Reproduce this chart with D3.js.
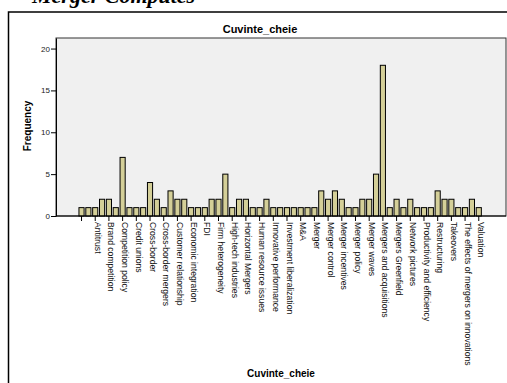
<!DOCTYPE html>
<html>
<head>
<meta charset="utf-8">
<script src="https://cdn.jsdelivr.net/npm/d3@7"></script>
<style>
  body { margin: 0; background: #fff; }
  svg { display: block; }
</style>
</head>
<body>
<svg id="drawing_region"></svg>
<script>
// categories (alphabetical, SPSS only labels every other one)
const categories = [
  "", "Acquisitions", "Antitrust", "Banking", "Brand competition", "Competition",
  "Competition policy", "Corporate governance", "Credit unions", "Cross border acquisitions",
  "Cross-border", "Cross-border acquisitions", "Cross-border mergers", "Culture",
  "Customer relationship", "Diversification", "Economic integration", "Efficiency",
  "FDI", "Financial performance", "Firm heterogeneity", "Globalization",
  "High-tech industries", "Hospital mergers", "Horizontal Mergers", "Human capital",
  "Human resource issues", "Innovation", "Innovative performance", "Integration",
  "Investment liberalization", "Joint ventures", "M&A", "Market power", "Merger",
  "Merger activity", "Merger control", "Merger guidelines", "Merger incentives",
  "Merger performance", "Merger policy", "Merger simulation", "Merger waves", "Mergers",
  "Mergers and acquisitions", "Mergers and alliances", "Mergers Greenfield", "Motives",
  "Network pictures", "Post-merger integration", "Productivity and efficiency",
  "Regulation", "Restructuring", "Synergies", "Takeovers", "Technology",
  "The effects of mergers on innovations", "Trade", "Valuation"
]
const frequencies = [
  1, 1, 1, 2, 2, 1, 7, 1, 1, 1,
  4, 2, 1, 3, 2, 2, 1, 1, 1, 2,
  2, 5, 1, 2, 2, 1, 1, 2, 1, 1,
  1, 1, 1, 1, 1, 3, 2, 3, 2, 1,
  1, 2, 2, 5, 18, 1, 2, 1, 2, 1,
  1, 1, 3, 2, 2, 1, 1, 2, 1
]
const yTicks = [0, 5, 10, 15, 20]
const yMax = 21.26

class BarChart {
  constructor(config) {
    this.config = config
    this.init()
  }

  init() {
    let self = this
    const c = self.config

    self.svg = d3.select(c.parent)
      .attr('width', c.width)
      .attr('height', c.height)

    // cropped heading from the page above the chart
    self.svg.append('text')
      .attr('x', 32)
      .attr('y', 3)
      .attr('font-family', '"Liberation Serif", serif')
      .attr('font-style', 'italic')
      .attr('font-weight', 'bold')
      .attr('font-size', 22)
      .text('Merger Computes')

    // outer frame
    self.svg.append('rect')
      .attr('x', 8.5).attr('y', 12)
      .attr('width', 520).attr('height', 400)
      .attr('fill', 'none')
      .attr('stroke', '#000')
      .attr('stroke-width', 1.5)

    self.xscale = d3.scaleBand()
      .domain(categories)
      .range([78.1, 482.2])
      .paddingInner(0.25)
      .paddingOuter(0.125)

    self.yscale = d3.scaleLinear()
      .domain([0, yMax])
      .range([c.plot.bottom, c.plot.top])
  }

  render() {
    let self = this
    const c = self.config

    // title
    self.svg.append('text')
      .attr('x', 260).attr('y', 33)
      .attr('text-anchor', 'middle')
      .attr('font-family', '"Liberation Sans", Arial, sans-serif')
      .attr('font-weight', 'bold')
      .attr('font-size', 11)
      .text('Cuvinte_cheie')

    // plot background
    self.svg.append('rect')
      .attr('x', c.plot.left).attr('y', c.plot.top)
      .attr('width', c.plot.right - c.plot.left)
      .attr('height', c.plot.bottom - c.plot.top)
      .attr('fill', '#f0f0f0')
      .attr('stroke', '#333')
      .attr('stroke-width', 1)

    // bars
    self.svg.append('g').selectAll('rect')
      .data(frequencies).enter()
      .append('rect')
      .attr('x', (d, i) => self.xscale(categories[i]))
      .attr('y', d => self.yscale(d))
      .attr('width', self.xscale.bandwidth())
      .attr('height', d => self.yscale(0) - self.yscale(d))
      .attr('fill', '#d4cf98')
      .attr('stroke', '#000')
      .attr('stroke-width', 1)

    // y axis
    const yaxis = d3.axisLeft(self.yscale).tickValues(yTicks).tickSize(5).tickSizeOuter(0)
    const yg = self.svg.append('g')
      .attr('transform', `translate(${c.plot.left},0)`)
      .call(yaxis)
    yg.select('.domain').attr('stroke', '#000')
    yg.selectAll('text')
      .attr('font-family', '"Liberation Sans", Arial, sans-serif')
      .attr('font-size', 8)
      .attr('fill', '#222')
      .attr('x', -6)

    // x axis, only every other category labelled
    const labelled = categories.filter((d, i) => i % 2 === 0)
    const xaxis = d3.axisBottom(self.xscale).tickValues(labelled).tickSize(5).tickSizeOuter(0)
    const xg = self.svg.append('g')
      .attr('transform', `translate(0,${c.plot.bottom})`)
      .call(xaxis)
    xg.select('.domain').remove()
    xg.selectAll('text')
      .attr('font-family', '"Liberation Sans", Arial, sans-serif')
      .attr('font-size', 8.6)
      .attr('fill', '#111')
      .attr('text-anchor', 'start')
      .attr('transform', 'rotate(90)')
      .attr('x', 6)
      .attr('y', 0)
      .attr('dy', '0.05em')

    self.svg.append('line')
      .attr('x1', c.plot.left).attr('x2', c.plot.right)
      .attr('y1', c.plot.bottom).attr('y2', c.plot.bottom)
      .attr('stroke', '#000')

    // axis titles
    self.svg.append('text')
      .attr('transform', 'translate(31,126) rotate(-90)')
      .attr('text-anchor', 'middle')
      .attr('font-family', '"Liberation Sans", Arial, sans-serif')
      .attr('font-weight', 'bold')
      .attr('font-size', 10)
      .text('Frequency')

    self.svg.append('text')
      .attr('x', 281).attr('y', 377)
      .attr('text-anchor', 'middle')
      .attr('font-family', '"Liberation Sans", Arial, sans-serif')
      .attr('font-weight', 'bold')
      .attr('font-size', 10)
      .text('Cuvinte_cheie')
  }
}

const config = {
  parent: '#drawing_region',
  width: 507,
  height: 383,
  plot: {left: 56, right: 506, top: 38, bottom: 216}
}

const chart = new BarChart(config)
chart.render()
</script>
</body>
</html>
